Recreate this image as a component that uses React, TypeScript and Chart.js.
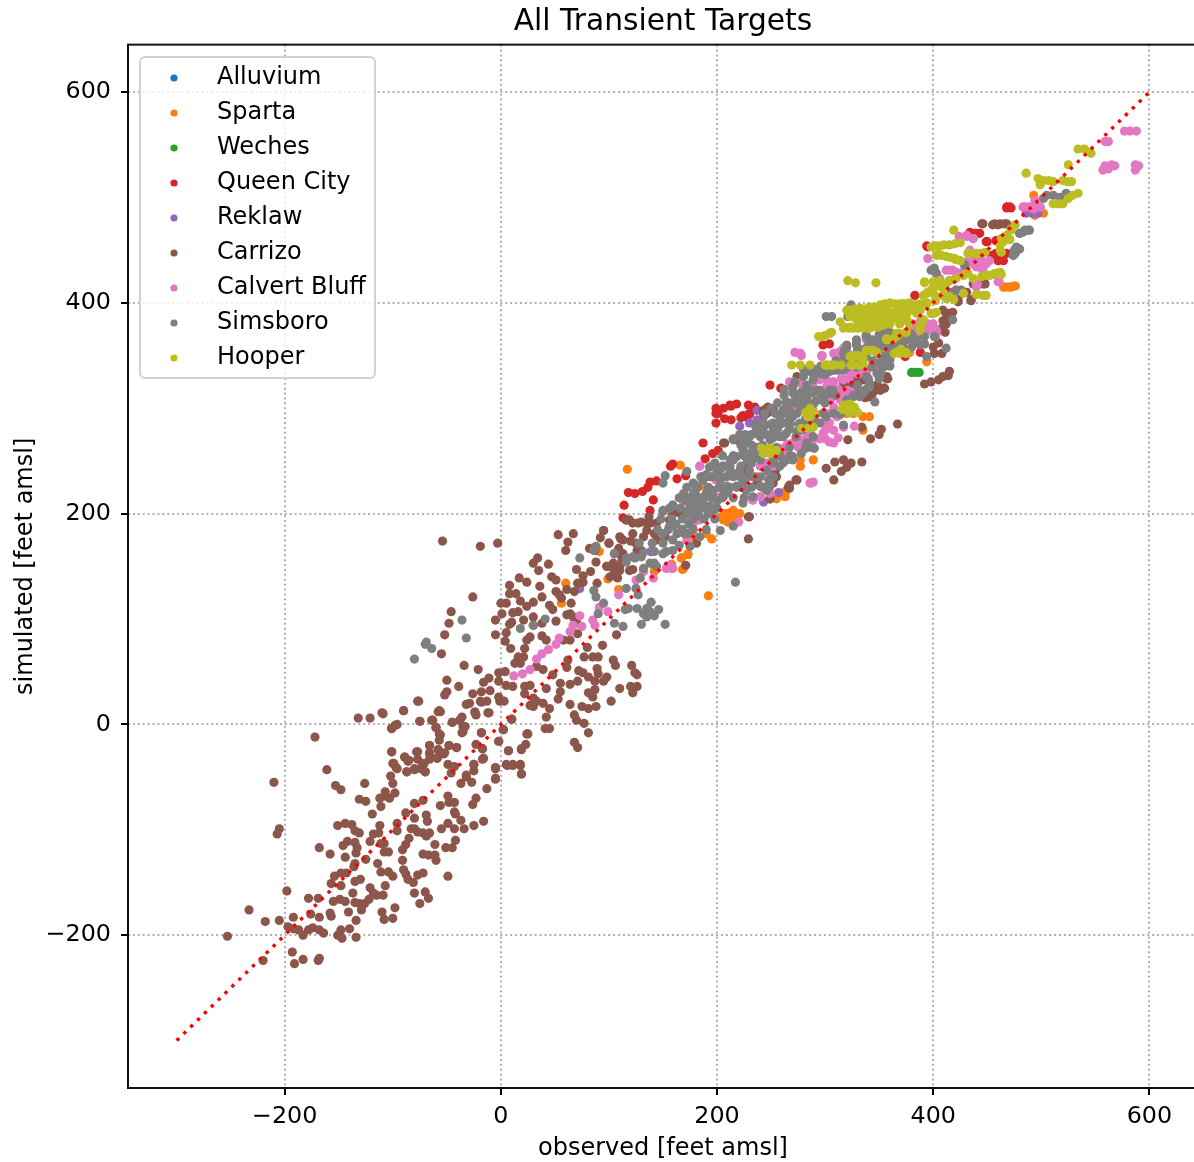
import React, { useEffect, useRef } from "react";
import { Chart, registerables } from "chart.js";

Chart.register(...registerables);

type P = [number, number];

const title = "All Transient Targets";
const xTitle = "observed [feet amsl]";
const yTitle = "simulated [feet amsl]";
const tickValues = [-200, 0, 200, 400, 600];
const axisMin = -345;
const axisMax = 645;
const oneToOne: P[] = [[-300, -300], [600, 600]];

const alluvium: P[] = [];

const sparta: P[] = [
  [60,134],[91,164],[56,115],[99,138],[109,128],[167,158],[173,161],[158,148],[142,145],[168,147],[117,242],[166,246],[183,226],[188,226],[289,251],[277,251],[277,245],[195,176],[190,181],[206,194],[210,197],[215,194],[221,200],[215,203],[210,192],[207,200],[212,201],[218,197],[204,197],[255,214],[263,221],[263,216],[259,219],[341,292],[335,292],[335,279],[326,295],[320,295],[303,281],[173,162],[167,158],[169,148],[178,178],[158,152],[142,150],[192,122],[465,415],[469,415],[472,415],[476,416],[394,344],[494,483],[502,485],[493,502],[378,353],
  [181,226],[187,227],[216,197],[263,219],[466,415],[471,415],[475,416],
];

const weches: P[] = [[380,334],[383,334],[387,334]];

const queenCity: P[] = [
  [114,208],[113,196],[138,203],[141,213],[118,220],[124,219],[131,221],[136,225],[138,230],[144,231],[157,245],[159,247],[163,233],[171,236],[189,252],[187,267],[196,257],[201,260],[224,274],[218,270],[199,286],[207,290],[213,289],[226,292],[230,294],[222,291],[199,295],[199,300],[206,300],[212,303],[218,304],[229,303],[235,301],[249,322],[259,319],[273,312],[298,360],[304,361],[468,490],[472,490],[435,466],[439,466],[443,466],[449,458],[459,459],[394,454],[463,445],[460,440],[388,353],[374,349],[383,407],[454,445],[468,447],
  [230,295],[224,293],[201,295],[213,302],[440,466],[434,467],[395,453],[460,442],[458,447],[465,440],[450,458],[458,459],[471,491],[468,491],
];

const reklaw: P[] = [
  [73,129],[139,164],[221,283],[230,286],[237,289],[243,292],[237,298],[257,220],[233,213],[243,211],[139,164],[249,214],[486,485],[492,485],[497,485],
];

const carrizo: P[] = [
  [-253,-201],[-233,-176],[-218,-187],[-205,-186],[-198,-158],[-210,-55],[-205,-99],[-207,-104],[-172,-12],[-161,-43],[-153,-58],[-148,-62],[-126,-56],[-131,-71],[-125,-73],[-151,-96],[-144,-94],[-138,-95],[-135,-101],[-131,-103],[-168,-117],[-158,-123],[-144,-126],[-146,-115],[-142,-111],[-135,-112],[-133,-117],[-134,-122],[-135,-132],[-136,-135],[-125,-128],[-121,-111],[-118,-104],[-113,-103],[-112,-96],[-111,-78],[-119,-85],[-112,-70],[-107,-68],[-107,-64],[-103,-70],[-98,-65],[-100,-56],[-102,-49],[-96,-42],[-99,-37],[-101,-26],[-89,-31],[-85,-34],[-77,-26],[-77,-33],[-87,-45],[-80,-43],[-74,-42],[-70,-45],[-71,-37],[-66,-33],[-66,-27],[-66,-20],[-58,-24],[-52,-27],[-59,-32],[-48,-20],[-41,-22],[-57,-15],[-57,-9],[-60,-3],[-63,4],[-75,3],[-90,13],[-109,10],[-121,6],[-132,6],[-98,-1],[-101,-4],[-45,2],[-38,4],[-36,7],[-33,-2],[-35,-7],[-58,12],[-56,12],[-76,22],[-32,19],[-24,12],[-23,9],[-18,-8],[-11,11],[-18,21],[-1,22],[-2,-16],[2.5,-5],[7,-25],[19,-24],[24,-9],[10,5],[-17,-23],[-17,-33],[-25,-38],[-25,-44],[-27,-55],[-32,-50],[-37,-56],[-23,-70],[-26,-76],[-13,-61],[-5,-42],[-5,-52],[6,-39],[11,-39],[18,-39],[19,-47],[-49,-68],[-43,-74],[-48,-74],[-56,-77],[-43,-83],[-37,-91],[-42,-85],[-49,-94],[-43,-99],[-34,-99],[-25,-96],[-16,-92],[-55,-99],[-61,-114],[-51,-117],[-45,-117],[-42,-110],[-72,-72],[-69,-86],[-68,-92],[-80,-89],[-80,-75],[-88,-84],[-96,-94],[-96,-101],[-83,-99],[-80,-99],[-77,-102],[-72,-103],[-66,-103],[-69,-106],[-85,-108],[-88,-114],[-91,-119],[-108,-121],[-104,-121],[-114,-132],[-91,-129],[-90,-138],[-88,-142],[-86,-147],[-81,-150],[-77,-143],[-72,-141],[-49,-144],[-72,-123],[-67,-124],[-61,-124],[-60,-129],[-111,-140],[-104,-140],[-100,-144],[-107,-153],[-130,-147],[-135,-149],[-121,-155],[-118,-160],[-115,-162],[-109,-162],[-80,-160],[-70,-159],[-75,-170],[-67,-165],[-98,-174],[-100,-184],[-110,-178],[-108,-185],[-137,-160],[-155,-168],[-149,-166],[-144,-168],[-135,-169],[-131,-170],[-126,-170],[-122,-166],[-129,-176],[-141,-178],[-134,-186],[-140,-194],[-148,-195],[-151,-200],[-147,-203],[-134,-202],[-157,-182],[-158,-179],[-169,-165],[-178,-165],[-176,-180],[-168,-183],[-192,-183],[-197,-192],[-192,-194],[-187,-195],[-183,-200],[-178,-195],[-174,-193],[-168,-195],[-164,-198],[-193,-216],[-191,-227],[-183,-223],[-169,-224],[-168,-222],[-220,-224],[-157,-151],[-154,-144],[-148,-141],[-143,-141],[-148,-153],[-108,-113],[-111,-113],
  [-54,174],[-19,169],[-3,172],[-26,121],[-46,107],[-48,96],[-52,85],[-55,67],[-34,56],[-21,52],[-50,42],[-39,36],[-50,31],[-52,28],[-77,22],[-90,13],[-57,13],[-26,29],[-29,20],[-19,22],[-13,22],[-24,11],[-12,11],[-18,31],[-11,44],[-16,40],[-10,32],[-2,49],[4,50],[-2,41],[5,37],[11,36],[-2,26],[3,22],[10,5],[2,-5],[25,-9],[23,-19],[19,-23],[7,-25],[-2,-16],[5,-38],[11,-38],[18,-38],[19,-47],[-5,-41],[-38,4],[-35,-2],[-36,-8],[-45,2],[-64,4],[-75,3],[-18,-8],[-23,-19],[-17,-23],[-16,-32],[-25,-38],[-41,-22],[-48,-20],[-58,-24],[-66,-20],[-56,-10],[-60,-3],[-110,11],[-101,-4],[-96,0],[-101,-26],[-78,-26],[-89,-31],[-86,-35],[-66,-28],[-59,-32],[-53,-28],[-73,-40],[-70,-45],[-80,-42],[-87,-45],[-97,-41],[-100,-37],[-49,-38],[-43,-40],[-46,-46],[-32,-48],[-5,-51],
  [8,132],[8,124],[14,124],[17,139],[24,135],[36,131],[35,146],[44,152],[30,153],[34,158],[53,180],[67,181],[62,173],[60,165],[47,140],[51,137],[38,121],[30,116],[18,117],[0,115],[5,115],[24,112],[16,107],[11,106],[1,105],[-5,99],[10,97],[8,95],[21,99],[30,102],[5,87],[-5,85],[4,79],[9,72],[13,58],[18,58],[21,64],[22,72],[24,80],[27,83],[16,64],[38,96],[38,84],[42,80],[30,94],[45,113],[48,109],[51,98],[61,104],[64,105],[67,102],[70,97],[65,115],[61,128],[68,126],[70,147],[76,141],[71,134],[76,135],[83,145],[89,134],[88,154],[82,167],[95,184],[100,172],[110,178],[113,175],[92,177],[87,165],[101,150],[105,145],[108,139],[119,194],[127,191],[113,162],[51,126],[56,120],[54,123],[67,94],[64,80],[58,80],[71,86],[80,73],[94,75],[107,85],[85,64],[90,64],[77,64],[104,61],[106,56],[121,56],[124,49],[126,47],[120,36],[126,36],[122,30],[110,34],[102,22],[89,53],[90,48],[98,45],[95,41],[87,41],[81,45],[72,51],[76,49],[71,41],[64,38],[87,33],[81,30],[85,26],[64,19],[75,17],[81,15],[88,17],[68,9],[70,4],[77,1],[81,-8],[68,-17],[71,-22],[42,7],[45,15],[53,24],[55,31],[42,34],[55,39],[48,47],[39,52],[33,55],[61,54],[62,61],[41,-4],[45,-4],[27,37],[22,36],[22,29],[30,25],[33,22],[27,18],[30,17],[39,20],[104,153],[98,150],[110,150],[122,147],[116,194],[122,181],[135,191],[144,191],[144,175],[125,172],[110,162],
  [247,301],[243,298],[246,295],[252,300],[321,270],[334,282],[342,271],[350,275],[352,280],[367,285],[301,243],[309,249],[317,251],[324,248],[334,249],[315,240],[320,244],[308,232],[274,232],[267,227],[267,224],[249,214],[229,176],[229,197],[181,172],[171,151],[207,267],[95,184],[111,176],[100,172],[132,178],[120,174],[109,167],[126,165],[116,194],[122,191],[130,192],[137,197],[138,191],[135,184],[142,181],[159,203],[166,203],[172,202],[156,194],[152,178],[130,165],[112,156],[110,146],[98,150],[119,146],[101,140],[224,241],[227,235],[252,235],[254,241],[243,225],[237,229],[274,330],[275,328],[317,324],[326,327],[338,328],[345,316],[351,317],[355,319],[357,328],[337,310],[178,213],[181,208],
  [446,475],[455,474],[460,474],[466,475],[409,393],[414,390],[418,391],[409,383],[412,380],[411,372],[400,358],[401,352],[408,352],[392,323],[398,325],[405,327],[409,330],[414,331],[415,335],[423,401],[435,402],[431,410],[437,418],[448,418],[357,330],[354,319],[346,317],[343,312],[340,311],[329,325],[317,320],[323,323],
  [412,386],[416,384],[408,376],[405,362],[340,320],[348,322],[330,318],[317,325],[323,327],[329,327],[335,327],[341,311],[351,319],[344,316],[358,328],[246,300],[243,295],[249,297],[166,200],[159,200],[178,210],[206,267],[255,235],[252,229],[266,225],[273,232],[230,197],[240,226],[227,243],[249,214],[445,475],[457,475],[462,475],[468,475],[435,403],[429,410],[423,403],[446,418],
];

const calvertBluff: P[] = [
  [12,46],[20,48],[27,52],[33,62],[38,67],[44,71],[51,76],[54,82],[64,88],[67,94],[73,103],[75,93],[85,99],[87,94],[91,111],[99,107],[109,123],[125,137],[132,145],[141,139],
  [272,353],[277,352],[297,350],[308,352],[314,354],[320,354],[311,347],[267,325],[277,324],[289,325],[301,327],[308,325],[329,333],[335,335],[321,317],[314,308],[308,301],[311,292],[308,279],[298,276],[295,271],[304,268],[308,267],[317,282],[327,283],[286,229],[289,230],[261,262],[270,267],[277,270],[283,273],[246,248],[252,245],[240,245],[246,237],[203,216],[200,232],[184,245],[178,191],[175,194],[183,194],[172,175],[156,151],[153,148],[159,148],[132,146],[240,216],[233,213],[249,219],[220,192],[169,211],[304,286],[298,286],
  [577,563],[582,563],[588,563],[559,553],[562,553],[559,530],[557,526],[565,531],[568,530],[587,531],[590,530],[587,526],[562,527],[485,491],[494,497],[493,489],[499,491],[431,463],[437,461],[434,450],[440,434],[446,436],[452,440],[446,431],[418,431],[412,431],[461,420],[440,418],[395,442],[406,423],[383,374],[400,380],[403,374],[381,380],[395,380],[278,350],[297,349],[309,352],[317,357],[338,365],[357,350],[332,333],[338,333],[295,327],[301,320],[323,314],[307,325],[348,339],
  [315,328],[322,328],[312,318],[318,312],[305,308],[303,295],[265,266],[275,263],[288,268],[300,279],[300,271],[312,272],[385,368],[388,382],[402,368],[444,442],[438,442],[428,430],
  [297,350],[314,352],[310,349],[277,352],[323,333],[335,333],[317,327],[307,320],[317,314],[289,320],[280,320],[326,314],[321,303],[317,300],[326,301],[283,295],[381,374],[403,371],[395,374],[184,245],[169,213],[199,232],[206,216],[246,235],[273,267],[280,268],[286,279],[264,256],[270,298],[255,254],[240,216],[287,229],[431,464],[437,461],[424,463],[443,441],[446,434],[437,437],[431,439],[449,437],[415,431],[421,429],[441,418],[440,415],[460,420],[483,491],[489,491],[499,491],
];

const simsboro: P[] = [
  [-80,62],[-70,76],[-69,78],[-64,72],[-36,99],[-32,82],[18,91],[30,94],[41,100],[73,158],[88,169],[86,165],[86,127],[88,121],[105,162],[90,105],[95,115],[105,96],[113,93],[130,95],[152,95],[142,103],[146,109],[139,116],[135,102],[132,105],[126,110],[118,110],[115,109],[135,110],[138,107],[116,129],[125,129],[129,139],[127,123],[132,148],[116,154],[122,159],[130,159],[142,153],[150,162],[159,165],[170,181],[159,188],[150,203],[159,208],[175,210],[217,135],
  [152,236],[150,229],[172,240],[178,229],[186,235],[190,237],[193,244],[198,248],[204,243],[212,251],[218,254],[224,262],[215,271],[221,275],[237,276],[243,282],[252,281],[261,286],[267,289],[240,273],[249,270],[258,273],[267,280],[274,278],[280,280],[286,263],[277,279],[289,273],[295,286],[301,292],[308,295],[314,294],[264,301],[274,305],[283,308],[289,316],[295,317],[304,317],[264,306],[270,320],[283,322],[289,333],[298,335],[308,336],[320,339],[326,343],[338,349],[348,352],[357,358],[363,365],[369,368],[385,365],[329,365],[338,369],[320,360],[335,314],[341,324],[348,333],[354,339],[360,346],[346,306],[317,284],[264,251],[258,245],[270,251],[283,267],[215,238],[221,241],[230,257],[237,260],[224,229],[230,241],[240,235],[203,232],[196,222],[206,222],[218,225],[184,213],[190,216],[172,200],[178,203],[184,205],[196,203],[203,184],[215,188],[184,178],[175,169],[159,175],[153,164],[138,153],[124,158],[116,158],[252,251],[246,222],[249,229],[150,202],[159,208],[169,219],[170,213],[175,205],[193,207],[105,162],[144,150],[150,181],[163,181],[173,181],[156,188],
  [301,387],[306,387],[321,387],[324,398],[401,431],[398,431],[403,428],[477,453],[476,447],[480,451],[485,469],[489,469],[480,466],[429,436],[422,412],[417,410],[505,502],[511,502],[517,500],[502,499],[523,504],[418,384],[401,368],[392,361],[388,360],[381,365],[375,365],[363,369],[351,368],[341,365],[329,361],[320,358],[394,349],[351,342],[343,339],[351,333],[338,330],[329,339],[317,336],[304,335],[295,333],[286,335],[283,320],[295,316],[283,311],[307,317],[341,320],[332,316],[326,311],[354,349],[412,357],
  [128,172],[140,172],[150,172],[165,170],[145,185],[155,185],[168,185],[178,185],[190,185],[148,195],[158,195],[168,195],[178,195],[188,195],[198,195],[156,205],[166,205],[176,205],[186,205],[200,205],[165,215],[175,215],[185,215],[195,215],[205,215],[215,215],[225,215],[172,225],[182,225],[192,225],[202,225],[212,225],[222,225],[232,225],[242,225],[185,235],[195,235],[205,235],[215,235],[228,235],[236,235],[248,232],[195,245],[205,245],[212,245],[222,245],[232,248],[205,255],[215,255],[225,255],[235,253],[258,255],[268,255],[278,257],[222,265],[232,265],[242,265],[252,272],[282,262],[290,262],[226,275],[232,275],[246,275],[254,275],[264,276],[236,285],[250,285],[258,285],[268,285],[276,285],[284,285],[244,295],[254,295],[264,295],[274,295],[282,290],[290,290],[298,295],[256,305],[266,305],[272,305],[280,305],[290,305],[300,305],[320,308],[270,315],[278,315],[286,315],[300,312],[310,312],[326,312],[338,318],[262,318],[272,325],[296,340],[316,340],[330,322],[340,328],[350,328],[280,337],[290,337],[300,340],[312,342],[322,342],[332,345],[344,345],[352,345],[360,340],[310,345],[318,347],[328,350],[340,354],[350,356],[362,354],[372,358],[318,355],[330,355],[340,360],[352,362],[362,360],[372,362],[380,358],[350,370],[360,372],[370,364],[380,370],[392,368],
  [159,207],[178,219],[187,232],[178,210],[187,210],[196,219],[193,235],[206,245],[215,251],[224,260],[215,270],[230,254],[236,263],[236,282],[243,286],[252,286],[261,286],[270,292],[280,298],[261,298],[270,305],[280,311],[292,317],[292,308],[249,273],[261,273],[230,273],[224,270],[233,235],[246,241],[261,248],[270,254],[227,222],[218,226],[209,226],[193,207],[249,226],[240,226],[273,273],[255,263],[240,251],[221,235],[209,235],[199,235],[233,216],[224,210],[181,216],[190,219],[252,248],[252,235],[267,263],[277,286],[286,314],
  [283,335],[292,336],[304,335],[317,352],[329,360],[338,368],[351,371],[344,365],[357,372],[381,361],[360,361],[332,311],[341,323],[351,333],[357,342],[286,317],[295,317],[304,314],[283,305],[295,308],[277,314],[289,327],
  [400,431],[401,433],[421,412],[426,412],[475,450],[478,452],[474,445],[483,467],[488,469],[480,466],
  [132,163],[142,164],[162,190],[174,190],[183,198],[192,200],[200,212],[210,220],[180,222],[200,240],[212,240],[228,250],[240,260],[246,258],[228,268],[240,280],[256,280],[268,296],[278,300],[288,300],[258,292],[250,300],[272,312],[262,312],[280,330],[300,332],[312,336],[326,350],[336,356],[346,360],[356,350],[366,358],
];

const hooper: P[] = [
  [298,368],[304,371],[314,382],[318,377],[269,341],[277,341],[286,341],[300,341],[306,341],[315,341],[324,341],[331,341],[335,343],[326,350],[335,350],[341,355],[346,354],[357,365],[366,371],[374,353],[366,353],[286,300],[286,292],[282,296],[290,296],[320,303],[326,300],[316,299],[322,296],[330,296],[278,281],[284,281],[289,282],[241,262],[243,257],[249,262],[255,260],[249,257],[245,260],
  [321,421],[328,419],[347,419],[323,393],[332,395],[341,396],[351,398],[360,400],[369,399],[378,400],[388,399],[323,387],[332,387],[341,388],[351,390],[360,391],[369,391],[378,393],[388,393],[335,380],[344,382],[354,384],[363,385],[372,385],[317,376],[326,376],[335,376],[344,377],[354,379],[369,371],[357,366],[363,366],[375,372],[389,380],[398,390],[403,391],[388,374],[326,349],[332,349],[343,355],[348,353],[369,353],[375,353],[364,352],[301,341],[307,341],[332,341],[392,419],[400,420],[406,421],[415,421],[391,407],[395,410],[400,414],[409,414],[412,404],[419,403],[398,453],[406,454],[415,455],[425,457],[405,446],[412,444],[420,442],[425,440],[432,447],[440,447],[448,448],[419,469],[463,461],[468,464],[472,470],[476,474],[465,458],[462,455],[463,448],[445,425],[452,426],[459,428],[463,427],[440,408],[449,407],[428,409],[486,523],[497,518],[502,516],[499,512],[511,515],[520,516],[528,515],[525,531],[534,546],[540,546],[546,542],[511,494],[520,494],[525,499],[529,502],[534,504],
  [327,394],[336,394],[346,396],[355,399],[365,399],[373,399],[383,398],[327,388],[336,388],[346,390],[355,390],[365,391],[373,392],[383,392],[340,380],[349,381],[358,384],[368,385],[376,383],[322,376],[330,376],[340,376],[349,377],[394,400],[402,402],[398,412],[405,416],[412,418],[402,454],[410,455],[420,456],[408,445],[416,443],[436,447],[444,447],[456,427],[516,494],[507,516],[524,515],[370,356],[330,350],
  [320,393],[329,393],[338,393],[348,395],[357,396],[366,398],[375,398],[385,398],[329,384],[338,387],[348,387],[357,387],[366,388],[375,388],[385,390],[323,377],[332,379],[341,376],[351,379],[360,380],[369,380],[378,380],[394,399],[403,406],[412,406],[391,384],[400,390],[388,377],[357,365],[366,368],[375,372],[338,355],[344,355],[329,350],[323,349],[335,347],[326,341],[335,341],[369,352],[375,352],[303,341],[309,341],[300,369],[306,372],[294,368],[317,303],[323,304],[327,301],[286,298],[284,292],
  [403,445],[421,441],[462,456],[468,463],[472,469],[462,450],[471,460],[457,428],[449,426],[462,429],[446,407],[409,418],[415,421],[421,423],[428,426],[432,428],[437,423],[394,409],[400,409],[409,407],[415,406],[392,420],[372,399],[378,399],[384,396],
];

const names = ["Alluvium", "Sparta", "Weches", "Queen City", "Reklaw", "Carrizo", "Calvert Bluff", "Simsboro", "Hooper"];
const colors = ["#1f77b4", "#ff7f0e", "#2ca02c", "#d62728", "#9467bd", "#8c564b", "#e377c2", "#7f7f7f", "#bcbd22"];
const seriesValues: P[][] = [alluvium, sparta, weches, queenCity, reklaw, carrizo, calvertBluff, simsboro, hooper];

const FONT = '"DejaVu Sans"';
const minus = (v: number | string) => String(v).replace("-", "\u2212");

const framePlugin = {
  id: "frame",
  afterDatasetsDraw(chart: any) {
    const { ctx, chartArea: a } = chart;
    ctx.save();
    ctx.strokeStyle = "#111";
    ctx.lineWidth = 2;
    ctx.strokeRect(a.left, a.top, a.right - a.left, a.bottom - a.top);
    ctx.restore();
  },
  afterDraw(chart: any) {
    const { ctx } = chart;
    const x = 140, y = 57, w = 235, h = 321, r = 5;
    ctx.save();
    ctx.beginPath();
    ctx.roundRect(x, y, w, h, r);
    ctx.fillStyle = "rgba(255,255,255,0.8)";
    ctx.fill();
    ctx.strokeStyle = "#d2d2d2";
    ctx.lineWidth = 2;
    ctx.stroke();
    ctx.font = `24px ${FONT}`;
    ctx.textBaseline = "middle";
    ctx.textAlign = "left";
    names.forEach((name, i) => {
      const cy = 76 + i * 35;
      ctx.beginPath();
      ctx.arc(174, cy + 2, 3.6, 0, Math.PI * 2);
      ctx.fillStyle = colors[i];
      ctx.fill();
      ctx.fillStyle = "#000";
      ctx.fillText(name, 217, cy + 2);
    });
    ctx.restore();
  },
};

export default function App() {
  const ref = useRef<HTMLCanvasElement>(null);
  useEffect(() => {
    if (!ref.current) return;
    const pts = (a: P[]) => a.map(([x, y]) => ({ x, y }));
    const axis = (isX: boolean) => ({
      type: "linear" as const,
      min: axisMin,
      max: axisMax,
      afterBuildTicks(s: any) {
        s.ticks = tickValues.map((value) => ({ value }));
      },
      afterFit(s: any) {
        if (isX) {
          s.height = 74;
          s.paddingLeft = 0;
          s.paddingRight = 0;
        } else {
          s.width = 128;
          s.paddingTop = 0;
          s.paddingBottom = 0;
        }
      },
      grid: {
        color: "#b0b0b0",
        lineWidth: 2,
        drawTicks: true,
        tickLength: 7,
        tickColor: "#000",
        tickWidth: 2,
      },
      border: { display: false, dash: [2, 2.9] },
      ticks: {
        color: "#000",
        padding: isX ? 8 : 10,
        maxRotation: 0,
        autoSkip: false,
        font: { family: FONT, size: 23.8 },
        callback: (v: number | string) => minus(v),
      },
      title: {
        display: true,
        text: isX ? xTitle : yTitle,
        color: "#000",
        font: { family: FONT, size: 24 },
        padding: isX ? { top: 0, bottom: -1 } : { top: 11, bottom: 0 },
      },
    });
    const chart = new Chart(ref.current, {
      type: "scatter",
      plugins: [framePlugin],
      data: {
        datasets: [
          {
            label: "1:1",
            data: pts(oneToOne),
            showLine: true,
            borderColor: "#ff0000",
            borderWidth: 3.4,
            borderDash: [3.4, 6.2],
            pointRadius: 0,
            order: 0,
          } as any,
          ...seriesValues.map((values, i) => ({
            label: names[i],
            data: pts(values),
            backgroundColor: colors[i],
            borderColor: colors[i],
            borderWidth: 0,
            pointRadius: 4.6,
            order: 10 - i,
          })),
        ],
      },
      options: {
        responsive: false,
        maintainAspectRatio: false,
        animation: false,
        layout: { padding: 0, autoPadding: false },
        plugins: {
          legend: { display: false },
          tooltip: { enabled: false },
          title: {
            display: true,
            fullSize: false,
            text: title,
            color: "#000",
            font: { family: FONT, size: 29.7, weight: "normal" },
            padding: { top: 4, bottom: 5 },
          },
        },
        scales: { x: axis(true), y: axis(false) },
      },
    });
    return () => chart.destroy();
  }, []);
  return (
    <div style={{ position: "absolute", left: 0, top: 0, width: 1194, height: 1162, overflow: "hidden", background: "#fff" }}>
      <div style={{ width: 1198, height: 1162 }}>
        <canvas ref={ref} width={1198} height={1162} style={{ display: "block" }} />
      </div>
    </div>
  );
}
